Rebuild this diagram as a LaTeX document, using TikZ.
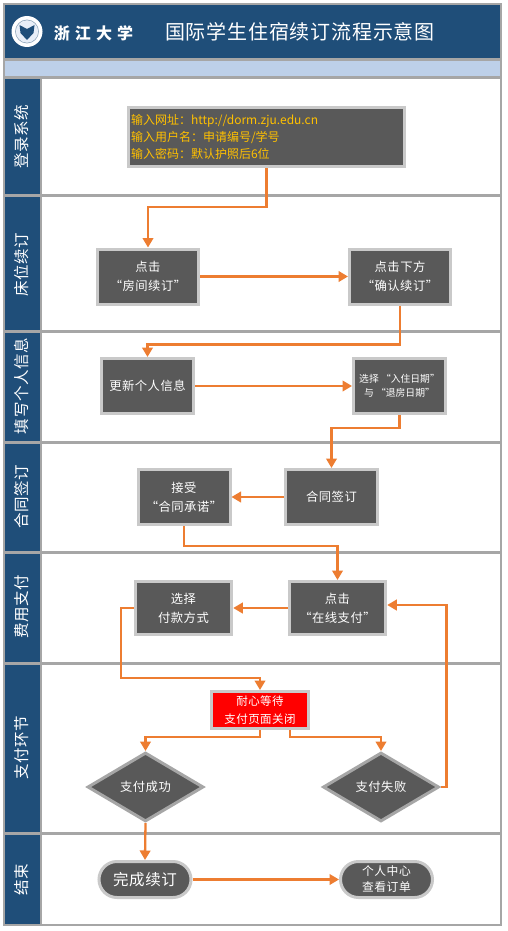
\documentclass[tikz,border=0pt]{standalone}
\usepackage{fontspec}
\setmainfont{Noto Sans CJK SC}
\newfontfamily\spaced[LetterSpace=4]{Noto Sans CJK SC}
\newfontfamily\wide[LetterSpace=32]{Noto Sans CJK SC}
\usetikzlibrary{arrows.meta,shapes.geometric,calc}
\definecolor{navy}{HTML}{1F4E79}
\definecolor{pale}{HTML}{BDD0E9}
\definecolor{rule}{HTML}{A6A6A6}
\definecolor{dark}{HTML}{595959}
\definecolor{halo}{HTML}{C9C9C9}
\definecolor{flow}{HTML}{ED7D31}
\definecolor{gold}{HTML}{FFC000}
\tikzset{
  x=1pt,y=-1pt,
  lanebox/.style={draw=rule,line width=2.4pt,fill=white},
  tabbox/.style={draw=rule,line width=2.4pt,fill=navy},
  lanelabel/.style={text=white,rotate=90,font=\spaced\fontsize{15.5}{15.5}\selectfont,inner sep=0pt},
  stepbox/.style={draw=halo,fill=dark,line width=3pt,text=white,align=center,inner sep=0pt,
    font=\spaced\fontsize{12.3}{19}\selectfont},
  pill/.style={stepbox,rounded corners=18pt},
  choice/.style={draw=rule,fill=dark,line width=3pt,text=white,diamond,aspect=1.68,inner sep=0pt,
    minimum width=116pt,minimum height=69pt,align=center,font=\spaced\fontsize{12.3}{14}\selectfont},
  conn/.style={draw=flow,line width=2.3pt,-{Triangle[length=9.5pt,width=10.5pt]}},
}
\begin{document}
\begin{tikzpicture}
\useasboundingbox (0,0) rectangle (507,931);
% header
\path[tabbox] (4,4) rectangle (501,59);
\path[draw=rule,line width=2.4pt,fill=pale] (4,60) rectangle (501,77);
% lanes
\foreach \a/\b in {78/195,196/331,332/442,443/552,553/663,664/833,834/925}{
  \path[lanebox] (41,\a) rectangle (501,\b);
  \path[tabbox] (4,\a) rectangle (41,\b);
}
\node[lanelabel] (l1) at (22,137) {登录系统};
\node[lanelabel] (l2) at (22,265) {床位续订};
\node[lanelabel] (l3) at (22,386) {填写个人信息};
\node[lanelabel] (l4) at (22,497) {合同签订};
\node[lanelabel] (l5) at (22,607) {费用支付};
\node[lanelabel] (l6) at (22,748) {支付环节};
\node[lanelabel] (l7) at (22,880) {结束};
% logo
\fill[white] (27,31.5) circle (15.5);
\draw[navy!45,line width=.8pt] (27,31.5) circle (11.5);
\fill[pale!35] (27,31.5) circle (10.8);
\fill[navy] (19.5,25) -- (27,29) -- (34.5,25) -- (33.5,33) -- (27,40) -- (20.5,33) -- cycle;
\node[text=white,font=\wide\bfseries\fontsize{16}{16}\selectfont,inner sep=0pt] (uni) at (93.5,33) {浙江大学};
\node[text=white,font=\spaced\fontsize{20}{20}\selectfont,inner sep=0pt] (title) at (300,32) {国际学生住宿续订流程示意图};
% steps
\node[stepbox,minimum width=276pt,minimum height=59pt,text=gold,align=left,anchor=center,
  font=\fontsize{12}{17.5}\selectfont,text width=271pt] (login) at (266.5,137)
  {\raisebox{-1.5pt}{输入网址：http://dorm.zju.edu.cn}\\\raisebox{-1.5pt}{输入用户名：申请编号/学号}\\\raisebox{-1pt}{输入密码：默认护照后6位}};
\node[stepbox,minimum width=101pt,minimum height=55pt] (renew) at (148,276.5) {点击\\“房间续订”};
\node[stepbox,minimum width=101pt,minimum height=55pt] (confirm) at (400,276.5) {点击下方\\“确认续订”};
\node[stepbox,minimum width=92pt,minimum height=55pt] (info) at (147.5,386) {更新个人信息};
\node[stepbox,minimum width=92pt,minimum height=55pt,font=\fontsize{9.8}{14}\selectfont] (dates) at (399.5,386) {选择 “入住日期”\\与 “退房日期”};
\node[stepbox,minimum width=92pt,minimum height=55pt] (accept) at (184,497) {接受\\“合同承诺”};
\node[stepbox,minimum width=92pt,minimum height=55pt] (sign) at (331.5,497) {合同签订};
\node[stepbox,minimum width=96.5pt,minimum height=53pt] (method) at (183.5,608) {选择\\付款方式};
\node[stepbox,minimum width=96.5pt,minimum height=53pt] (pay) at (337.5,608) {点击\\“在线支付”};
\node[stepbox,fill=red,minimum width=97pt,minimum height=37pt,font=\spaced\fontsize{11.5}{18.5}\selectfont] (wait) at (260,710) {耐心等待\\支付页面关闭};
\node[choice] (ok) at (145.5,787) {支付成功};
\node[choice] (fail) at (381,787) {支付失败};
\node[pill,minimum width=92pt,minimum height=36pt,font=\spaced\fontsize{15.5}{15.5}\selectfont] (done) at (145,879.5) {完成续订};
\node[pill,minimum width=92pt,minimum height=36pt,font=\spaced\fontsize{11.8}{16}\selectfont] (center) at (386.5,879.5) {个人中心\\查看订单};
\coordinate (bend) at (121,678);
% connectors
\draw[conn] (login.south) -- ++(0,39) -| (renew.north);
\draw[conn] (renew.east) -- (confirm.west);
\draw[conn] (confirm.south) -- ++(0,39) -| (info.north);
\draw[conn] (info.east) -- (dates.west);
\draw[conn] (dates.south) -- ++(0,13) -| (sign.north);
\draw[conn] (sign.west) -- (accept.east);
\draw[conn] (accept.south) -- ++(0,20) -| (pay.north);
\draw[conn] (pay.west) -- (method.east);
\draw[conn] (method.west) -| (bend) -| (wait.north);
\draw[conn] (wait.south) -- ++(0,7) -| (ok.north);
\draw[conn] ($(wait.south)+(30,0)$) -- ++(0,7) -| (fail.north);
\draw[conn] (fail.east) -- ++(6,0) |- ($(pay.east)+(0,-3)$);
\draw[conn] (ok.south) -- (done.north);
\draw[conn] (done.east) -- (center.west);
\end{tikzpicture}
\end{document}
